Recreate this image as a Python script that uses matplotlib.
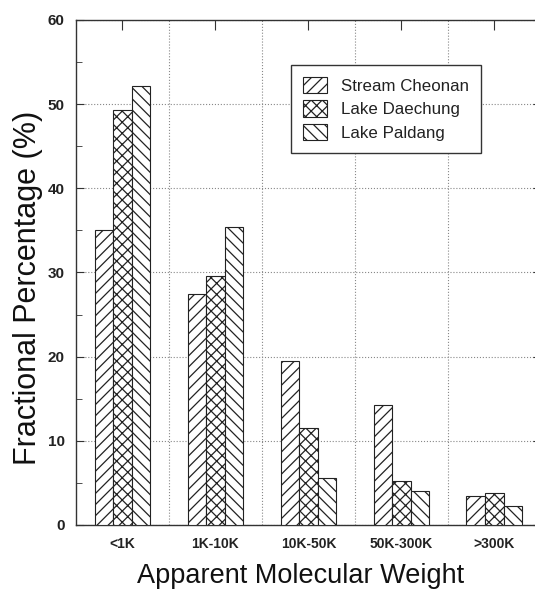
import numpy as np
import matplotlib.pyplot as plt
import matplotlib.transforms as mtransforms
from matplotlib.ticker import MultipleLocator, FixedLocator

plt.rcParams['font.family'] = ['Liberation Sans', 'DejaVu Sans']
plt.rcParams['hatch.linewidth'] = 0.9

# data
categories = ['<1K', '1K-10K', '10K-50K', '50K-300K', '>300K']
stream_cheonan = [35.1, 27.4, 19.5, 14.2, 3.5]
lake_daechung = [49.3, 29.6, 11.5, 5.2, 3.8]
lake_paldang = [52.1, 35.4, 5.6, 4.0, 2.3]

series = [('Stream Cheonan', stream_cheonan, '///'),
          ('Lake Daechung', lake_daechung, 'xxx'),
          ('Lake Paldang', lake_paldang, '\\\\\\')]

fig = plt.figure(figsize=(5.35, 5.93), dpi=100)
ax = fig.add_axes([0.142, 0.1147, 0.869, 0.8516])

x = np.arange(len(categories))
w = 0.2
for i, (name, vals, hatch) in enumerate(series):
    ax.bar(x + (i - 1) * w, vals, w, facecolor='white', edgecolor='#222222',
           linewidth=0.8, hatch=hatch, label=name, zorder=3)

ax.set_xlim(-0.5, 4.5)
ax.set_ylim(0, 60)

ax.set_xticks(x)
ax.set_xticklabels(categories, fontsize=10, fontweight='bold', color='#222222')
# labels sit a little left of the group centres in the original
shift = mtransforms.ScaledTranslation(-0.08, 0, fig.dpi_scale_trans)
for lbl in ax.get_xticklabels():
    lbl.set_transform(lbl.get_transform() + shift)
ax.xaxis.set_minor_locator(FixedLocator(x[:-1] + 0.5))
ax.tick_params(axis='x', which='major', bottom=False, top=True, direction='in',
               length=7, pad=9, color='#333333')
ax.tick_params(axis='x', which='minor', bottom=False, top=False)

ax.yaxis.set_major_locator(MultipleLocator(10))
ax.yaxis.set_minor_locator(MultipleLocator(5))
ax.tick_params(axis='y', which='both', left=True, right=True, direction='in',
               color='#333333')
ax.tick_params(axis='y', which='major', length=6, labelsize=11, pad=8)
ax.tick_params(axis='y', which='minor', length=4)
for lbl in ax.get_yticklabels():
    lbl.set_fontweight('bold')
    lbl.set_color('#222222')

ax.grid(True, axis='y', which='major', linestyle=':', color='#888888', linewidth=0.8, zorder=0)
ax.grid(True, axis='x', which='minor', linestyle=':', color='#888888', linewidth=0.8, zorder=0)

for s in ax.spines.values():
    s.set_color('#333333')
    s.set_linewidth(1.0)

ax.set_ylabel('Fractional Percentage (%)', fontsize=22, color='#111111')
ax.yaxis.set_label_coords(-0.07, 0.47)
ax.set_xlabel('Apparent Molecular Weight', fontsize=19.5, color='#111111')
ax.xaxis.set_label_coords(0.484, -0.076)

leg = ax.legend(loc='upper left', bbox_to_anchor=(0.462, 0.911), borderaxespad=0,
                prop={'size': 12.2}, fancybox=False, edgecolor='#333333', framealpha=1,
                handlelength=1.45, handleheight=1.1, labelspacing=0.4,
                handletextpad=0.8, borderpad=0.7)
leg.get_frame().set_linewidth(1.0)
for t in leg.get_texts():
    t.set_color('#222222')

fig.savefig('out.png', dpi=100)
